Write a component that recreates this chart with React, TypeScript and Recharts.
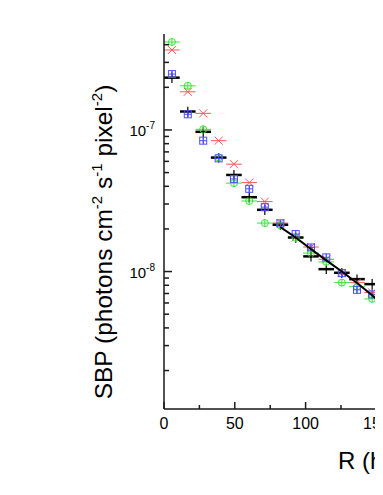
import { ScatterChart, Scatter, XAxis, YAxis, ErrorBar } from "recharts";

// bin centres (R) shared by the four profiles
const radius = [5.6, 16.8, 27.7, 38.6, 49.4, 60.2, 71.2, 82.2, 93.0, 103.8, 114.6, 125.6, 136.3, 147.0, 157.8];
const binHalfWidth = 5.5;

const greenSbp = [4.18e-7, 2.05e-7, 1.01e-7, 6.4e-8, 4.21e-8, 3.15e-8, 2.2e-8, 2.12e-8, 1.73e-8, 1.35e-8, 1.17e-8, 8.35e-9, 7.83e-9, 6.41e-9, 6.0e-9];
const redSbp = [3.67e-7, 1.86e-7, 1.31e-7, 8.4e-8, 5.73e-8, 4.25e-8, 3.12e-8, 2.2e-8, 1.74e-8, 1.49e-8, 1.22e-8, 9.8e-9, 8.35e-9, 7.11e-9, 7.0e-9];
const blueSbp = [2.48e-7, 1.29e-7, 8.4e-8, 6.3e-8, 4.51e-8, 3.84e-8, 2.85e-8, 2.19e-8, 1.84e-8, 1.48e-8, 1.26e-8, 9.75e-9, 7.43e-9, 6.9e-9, 6.3e-9];
const blueErr = [1.2e-8, 6e-9, 4e-9, 3e-9, 2.2e-9, 1.8e-9, 1.4e-9, 1.1e-9, 9e-10, 8e-10, 7e-10, 6e-10, 5e-10, 5e-10, 5e-10];
const blackSbp = [2.34e-7, 1.35e-7, 0.97e-7, 6.38e-8, 4.81e-8, 3.35e-8, 2.73e-8, 2.14e-8, 1.74e-8, 1.28e-8, 1.04e-8, 9.8e-9, 8.84e-9, 8.15e-9, 7.2e-9];
const blackErr = [1.9e-8, 1.1e-8, 8e-9, 5e-9, 4e-9, 2.7e-9, 2.2e-9, 1.7e-9, 1.4e-9, 1.0e-9, 8e-10, 8e-10, 7e-10, 7e-10, 6e-10];

const fitRadius = [82.2, 93.0, 103.8, 114.6, 125.6, 136.3, 147.0, 157.8, 168.0];
const fitSbp = [2.06e-8, 1.74e-8, 1.44e-8, 1.2e-8, 1.0e-8, 8.3e-9, 6.8e-9, 5.4e-9, 4.3e-9];

const xTicks = [0, 25, 50, 75, 100, 125, 150, 175, 200, 225, 250];
const yTicks = [
  2e-9, 3e-9, 4e-9, 5e-9, 6e-9, 7e-9, 8e-9, 9e-9,
  1e-8, 2e-8, 3e-8, 4e-8, 5e-8, 6e-8, 7e-8, 8e-8, 9e-8,
  1e-7, 2e-7, 3e-7, 4e-7,
];

const GREEN = "#33e633";
const RED = "#ff5555";
const BLUE = "#4d4dff";
const AXIS = "#1a1a1a";
const FONT = "'Liberation Sans', Arial, sans-serif";

const rows = (vals: number[], err?: number[]) =>
  radius.map((r, i) => ({ x: r, y: vals[i], ex: binHalfWidth, ey: err ? err[i] : 0 }));

const greenData = rows(greenSbp);
const redData = rows(redSbp);
const blueData = rows(blueSbp, blueErr);
const blackData = rows(blackSbp, blackErr);
const fitData = fitRadius.map((r, i) => ({ x: r, y: fitSbp[i] }));

const isDecade = (v: number) => Math.abs(Math.log10(v) - Math.round(Math.log10(v))) < 1e-6;

const BottomTick = ({ x, y, payload }: any) => {
  const major = payload.value % 50 === 0;
  return (
    <g>
      <line x1={x} x2={x} y1={y} y2={y - (major ? 7 : 4)} stroke={AXIS} strokeWidth={1.5} />
      {major && (
        <text x={x} y={y + 20} textAnchor="middle" fontSize={16} fontFamily={FONT} fill="#000">
          {payload.value}
        </text>
      )}
    </g>
  );
};

const TopTick = ({ x, y, payload }: any) => {
  const major = payload.value % 50 === 0;
  return <line x1={x} x2={x} y1={y} y2={y + (major ? 7 : 4)} stroke={AXIS} strokeWidth={1.5} />;
};

const LeftTick = ({ x, y, payload }: any) => {
  const major = isDecade(payload.value);
  const exp = Math.round(Math.log10(payload.value));
  return (
    <g>
      <line x1={x} x2={x + (major ? 8 : 5)} y1={y} y2={y} stroke={AXIS} strokeWidth={1.5} />
      {major && (
        <text x={x - 9} y={y + 6} textAnchor="end" fontSize={15} fontFamily={FONT} fill="#000">
          10<tspan dy={-7} fontSize={10}>{exp}</tspan>
        </text>
      )}
    </g>
  );
};

const Circle = ({ cx, cy }: any) => (
  <g stroke={GREEN} fill="none" strokeWidth={1}>
    <circle cx={cx} cy={cy} r={3.5} />
    <line x1={cx} x2={cx} y1={cy - 3.5} y2={cy + 3.5} />
  </g>
);

const Cross = ({ cx, cy }: any) => (
  <g stroke={RED} strokeWidth={1}>
    <line x1={cx - 4} x2={cx + 4} y1={cy - 4} y2={cy + 4} />
    <line x1={cx - 4} x2={cx + 4} y1={cy + 4} y2={cy - 4} />
  </g>
);

const Square = ({ cx, cy }: any) => (
  <g stroke={BLUE} fill="none" strokeWidth={1}>
    <rect x={cx - 3.5} y={cy - 3.5} width={7} height={7} />
    <line x1={cx - 3.5} x2={cx + 3.5} y1={cy} y2={cy} />
    <line x1={cx} x2={cx} y1={cy - 3.5} y2={cy + 3.5} />
  </g>
);

const Dot = ({ cx, cy }: any) => <circle cx={cx} cy={cy} r={1} fill="#000" />;
const NoShape = () => <g />;

export default function App() {
  return (
    <div style={{ position: "relative", width: 375, height: 479, overflow: "hidden" }}>
      <ScatterChart width={520} height={479} margin={{ top: 26, right: 10, left: 0, bottom: 0 }}>
        <XAxis
          type="number"
          dataKey="x"
          domain={[0, 250]}
          ticks={xTicks}
          interval={0}
          height={78}
          tickSize={0}
          tickMargin={0}
          tickLine={false}
          axisLine={{ stroke: AXIS, strokeWidth: 1.5 }}
          tick={<BottomTick />}
          allowDataOverflow
        />
        <XAxis
          xAxisId="top"
          orientation="top"
          type="number"
          dataKey="x"
          domain={[0, 250]}
          ticks={xTicks}
          interval={0}
          height={0}
          tickSize={0}
          tickMargin={0}
          tickLine={false}
          axisLine={{ stroke: AXIS, strokeWidth: 1.5 }}
          tick={<TopTick />}
          allowDataOverflow
        />
        <YAxis
          type="number"
          dataKey="y"
          scale="log"
          domain={[1.07e-9, 4.76e-7]}
          ticks={yTicks}
          interval={0}
          width={156}
          tickSize={0}
          tickMargin={0}
          tickLine={false}
          axisLine={{ stroke: AXIS, strokeWidth: 1.5 }}
          tick={<LeftTick />}
          allowDataOverflow
        />
        <Scatter data={redData} shape={<Cross />} isAnimationActive={false}>
          <ErrorBar dataKey="ex" direction="x" width={0} stroke={RED} strokeWidth={1} />
        </Scatter>
        <Scatter data={greenData} shape={<Circle />} isAnimationActive={false}>
          <ErrorBar dataKey="ex" direction="x" width={0} stroke={GREEN} strokeWidth={1} />
        </Scatter>
        <Scatter data={blackData} shape={<Dot />} isAnimationActive={false}>
          <ErrorBar dataKey="ex" direction="x" width={0} stroke="#000" strokeWidth={2.5} />
          <ErrorBar dataKey="ey" direction="y" width={0} stroke="#000" strokeWidth={1.2} />
        </Scatter>
        <Scatter data={blueData} shape={<Square />} isAnimationActive={false}>
          <ErrorBar dataKey="ey" direction="y" width={0} stroke={BLUE} strokeWidth={1} />
        </Scatter>
        <Scatter
          data={fitData}
          xAxisId="top"
          shape={<NoShape />}
          line={{ stroke: "#000", strokeWidth: 2 }}
          lineType="joint"
          isAnimationActive={false}
        />
      </ScatterChart>
      <svg
        width={375}
        height={479}
        style={{ position: "absolute", left: 0, top: 0, pointerEvents: "none" }}
        fontFamily={FONT}
      >
        <text transform="translate(104 234) rotate(-90)" textAnchor="middle" fontSize={24.5} fill="#000">
          SBP (photons cm<tspan dy={-10} fontSize={15}>-2</tspan>
          <tspan dy={10}> s</tspan>
          <tspan dy={-10} fontSize={15}>-1</tspan>
          <tspan dy={10}> pixel</tspan>
          <tspan dy={-10} fontSize={15}>-2</tspan>
          <tspan dy={10}>)</tspan>
        </text>
        <text x={330} y={461} fontSize={24} fill="#000">
          R (h<tspan dy={-10} fontSize={15}>-1</tspan>
          <tspan dy={10}> kpc)</tspan>
        </text>
        <line x1={369} x2={376} y1={135} y2={135} stroke="#000" strokeWidth={2.5} />
      </svg>
    </div>
  );
}
